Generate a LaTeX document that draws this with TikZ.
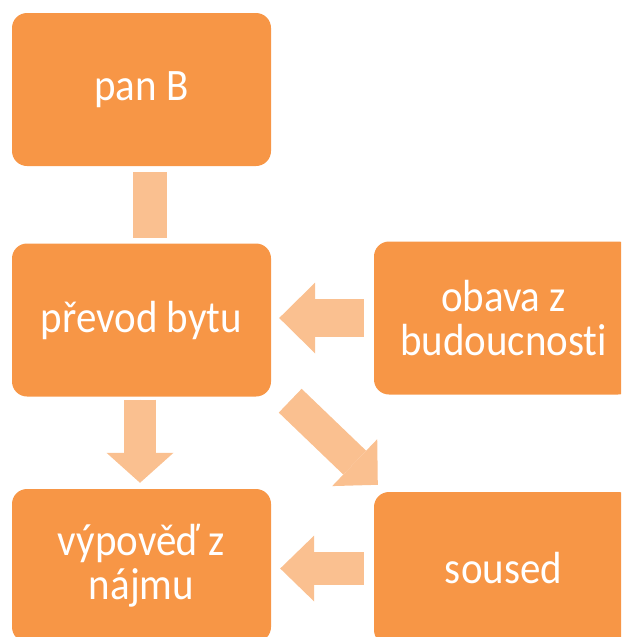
\documentclass[tikz,border=0pt]{standalone}
\usepackage{fontspec}
\setmainfont{Carlito}[Ligatures=NoCommon,FakeStretch=0.91]
\usetikzlibrary{arrows.meta}

\definecolor{boxorange}{HTML}{F79646}
\definecolor{arrowpeach}{HTML}{FAC090}

\tikzset{
  box/.style={rectangle,rounded corners=15pt,fill=boxorange,text=white,align=center,
    minimum width=259pt,minimum height=153pt,inner sep=0pt,font=\fontsize{45}{44}\selectfont},
  bar/.style={draw=arrowpeach,line width=34pt,line cap=butt},
  blockarrow/.style={draw=arrowpeach,fill=arrowpeach,line width=#1,line cap=butt},
}

\begin{document}
\begin{tikzpicture}[x=1pt,y=-1pt]
\useasboundingbox (0,0) rectangle (621,637);
\clip (0,0) rectangle (621,637);

\node[box] (panB) at (141.5,89.5) {pan B};
\node[box] (prevod) at (141.5,320) {převod bytu};
\node[box] (obava) at (503.5,318) {obava z\\budoucnosti};
\node[box] (vypoved) at (141.5,565.5) {výpověď z\\nájmu};
\node[box] (soused) at (503.5,568.5) {soused};

\draw[bar,shorten <=6pt,shorten >=5pt] ([xshift=8pt]panB.south) -- ([xshift=8pt]prevod.north);
\draw[blockarrow=38pt,-{Triangle[width=71pt,length=36pt,line width=0pt]},shorten <=10pt,shorten >=8pt]
  (obava.west) -- (obava.west -| prevod.east);
\draw[blockarrow=32pt,-{Triangle[width=67pt,length=30pt,line width=0pt]},shorten <=3pt,shorten >=6pt]
  ([xshift=-1.5pt]prevod.south) -- ([xshift=-1.5pt]vypoved.north);
\draw[blockarrow=33pt,-{Triangle[width=65pt,length=32pt,line width=0pt]}]
  ([xshift=19pt,yshift=-4pt]prevod.south east) -- ([xshift=4pt,yshift=7pt]soused.north west);
\draw[blockarrow=33pt,-{Triangle[width=66pt,length=34pt,line width=0pt]},shorten <=10pt,shorten >=9pt]
  (soused.west) -- (soused.west -| vypoved.east);
\end{tikzpicture}
\end{document}
